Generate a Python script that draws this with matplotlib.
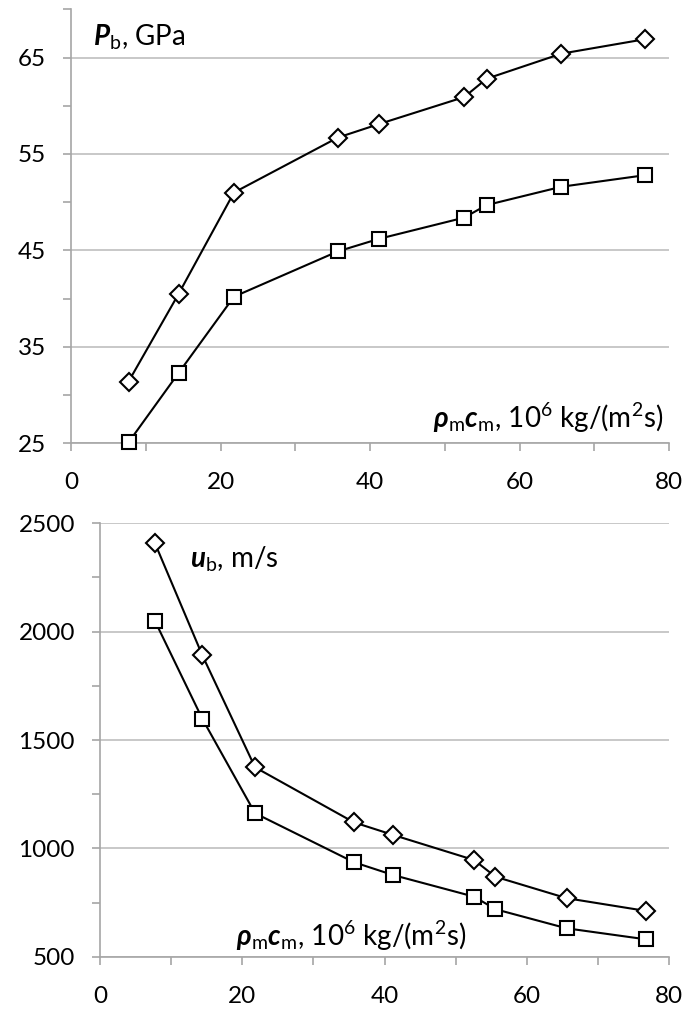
import matplotlib
matplotlib.use("Agg")
import matplotlib.pyplot as plt
from matplotlib.ticker import MultipleLocator

plt.rcParams['font.family'] = ['Lato', 'DejaVu Sans']
plt.rcParams['mathtext.fontset'] = 'custom'
plt.rcParams['mathtext.rm'] = 'Lato'
plt.rcParams['mathtext.it'] = 'Lato:italic'
plt.rcParams['mathtext.bf'] = 'Lato:bold'
plt.rcParams['mathtext.bfit'] = 'Lato:bold:italic'

# Data
x_rhoc = [7.7, 14.4, 21.8, 35.7, 41.2, 52.6, 55.6, 65.6, 76.8]
P_diamond = [31.4, 40.5, 51.0, 56.7, 58.1, 60.9, 62.8, 65.4, 66.9]
P_square = [25.1, 32.3, 40.2, 44.9, 46.2, 48.4, 49.7, 51.6, 52.8]
u_diamond = [2410, 1890, 1374, 1120, 1062, 946, 869, 770, 711]
u_square = [2051, 1597, 1162, 936, 877, 777, 719, 631, 580]

W, H = 688, 1009
fig = plt.figure(figsize=(W / 100, H / 100), dpi=100)

grid_c = '#bfbfbf'
spine_c = '#a6a6a6'
fs_tick = 17.5
fs_lab = 20

def style(ax, xlim, ylim, ymaj, ymin_):
    ax.set_xlim(*xlim)
    ax.set_ylim(*ylim)
    ax.xaxis.set_major_locator(MultipleLocator(20))
    ax.xaxis.set_minor_locator(MultipleLocator(10))
    ax.yaxis.set_major_locator(MultipleLocator(ymaj))
    ax.yaxis.set_minor_locator(MultipleLocator(ymin_))
    for s in ['top', 'right']:
        ax.spines[s].set_visible(False)
    for s in ['left', 'bottom']:
        ax.spines[s].set_color(spine_c)
        ax.spines[s].set_linewidth(1.2)
    ax.grid(True, which='major', axis='y', color=grid_c, linewidth=1.2)
    ax.set_axisbelow(True)
    ax.tick_params(which='both', direction='out', color=spine_c, width=1.2, length=6)
    ax.tick_params(axis='both', which='major', labelsize=fs_tick)
    ax.tick_params(axis='x', which='major', pad=15)
    ax.tick_params(axis='y', which='major', pad=12)

def plot_series(ax, x, yd, ys):
    ax.plot(x, yd, color='black', lw=1.5, marker='D', ms=9.5, mfc='white',
            mec='black', mew=1.5, clip_on=False, zorder=3)
    ax.plot(x, ys, color='black', lw=1.5, marker='s', ms=10.5, mfc='white',
            mec='black', mew=1.5, clip_on=False, zorder=3)

# Top axes
ax1 = fig.add_axes([71 / W, 1 - 443.3 / H, 598 / W, 434 / H])
style(ax1, (0, 80), (25, 70), 10, 5)
ax1.set_yticks([25, 35, 45, 55, 65])
ax1.set_yticks([30, 40, 50, 60, 70], minor=True)
plot_series(ax1, x_rhoc, P_diamond, P_square)
ax1.text(93 / W, 1 - 45 / H, r'$\mathbfit{P}_\mathrm{b}$, GPa', transform=fig.transFigure,
         fontsize=fs_lab, ha='left', va='baseline')
ax1.text(663 / W, 1 - 428 / H, r'$\mathbfit{\rho}_\mathrm{m}\mathbfit{c}_\mathrm{m}$, 10$^6$ kg/(m$^2$s)',
         transform=fig.transFigure, fontsize=fs_lab, ha='right', va='baseline')

# Bottom axes
ax2 = fig.add_axes([100 / W, 1 - 956.7 / H, 569 / W, 433.4 / H])
style(ax2, (0, 80), (500, 2500), 500, 250)
plot_series(ax2, x_rhoc, u_diamond, u_square)
ax2.text(190 / W, 1 - 568 / H, r'$\mathbfit{u}_\mathrm{b}$, m/s', transform=fig.transFigure,
         fontsize=fs_lab, ha='left', va='baseline')
ax2.text(236 / W, 1 - 946 / H, r'$\mathbfit{\rho}_\mathrm{m}\mathbfit{c}_\mathrm{m}$, 10$^6$ kg/(m$^2$s)',
         transform=fig.transFigure, fontsize=fs_lab, ha='left', va='baseline')

fig.savefig('out.png', dpi=100, facecolor='white')
